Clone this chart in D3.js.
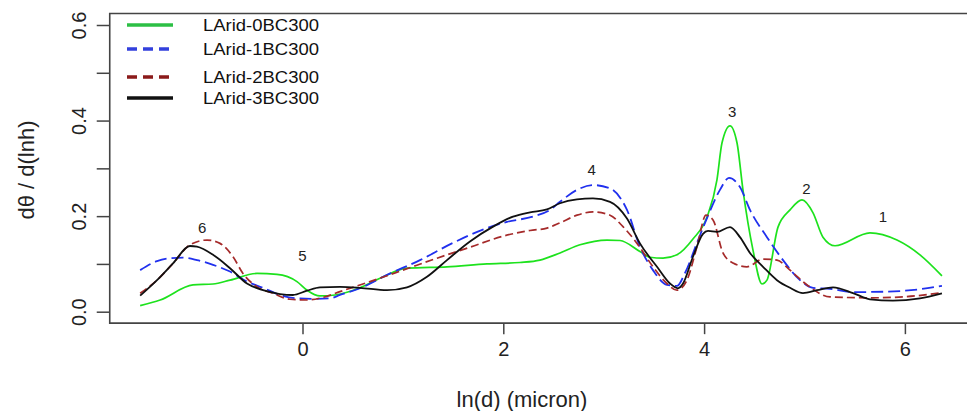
<!DOCTYPE html>
<html><head><meta charset="utf-8">
<script src="https://cdn.jsdelivr.net/npm/d3@7"></script>
<style>html,body{margin:0;padding:0;background:#fff;overflow:hidden}</style>
</head><body>
<svg id="chart" width="967" height="411"></svg>
<script>
// ---- data ----
const seriesNames = ["LArid-0BC300","LArid-1BC300","LArid-2BC300","LArid-3BC300"];
const xTicks = [0,2,4,6];
const yTicks = [0,0.1,0.2,0.3,0.4,0.5,0.6];
const yTickLabels = ["0.0","","0.2","","0.4","","0.6"];

const green0X = [-1.617,-1.418,-1.091,-0.891,-0.722,-0.453,-0.254,-0.055,0.045,0.174,0.324,0.573,0.772,1.041,1.439,1.838,2.166,2.365,2.565,2.764,3.033,3.162,3.361,3.461,3.591,3.730,3.889,4.029,4.128,4.178,4.258,4.328,4.387,4.487,4.577,4.626,4.736,4.856,4.975,5.085,5.184,5.304,5.652,5.921,6.150,6.369];
const green0Y = [0.0126,0.0245,0.056,0.058,0.066,0.080,0.078,0.063,0.045,0.033,0.035,0.050,0.070,0.091,0.094,0.100,0.103,0.108,0.123,0.140,0.150,0.149,0.126,0.114,0.112,0.119,0.152,0.198,0.276,0.353,0.389,0.353,0.255,0.129,0.058,0.066,0.177,0.213,0.234,0.207,0.156,0.138,0.165,0.150,0.119,0.075];

const blue1X = [-1.617,-1.449,-1.320,-1.190,-1.051,-0.891,-0.722,-0.553,-0.393,-0.224,-0.055,0.105,0.274,0.373,0.573,0.842,1.170,1.499,1.838,2.037,2.296,2.465,2.565,2.734,2.893,3.063,3.232,3.361,3.491,3.630,3.730,3.810,3.929,4.029,4.158,4.248,4.357,4.457,4.626,4.786,4.955,5.085,5.254,5.483,5.821,6.150,6.369];
const blue1Y = [0.087,0.106,0.112,0.113,0.108,0.098,0.084,0.063,0.050,0.035,0.028,0.027,0.028,0.035,0.049,0.077,0.108,0.144,0.175,0.188,0.199,0.213,0.230,0.255,0.265,0.258,0.213,0.136,0.087,0.056,0.054,0.081,0.144,0.196,0.255,0.280,0.261,0.213,0.156,0.108,0.066,0.050,0.048,0.041,0.042,0.047,0.054];

const red2X = [-1.617,-1.449,-1.290,-1.121,-0.951,-0.822,-0.692,-0.593,-0.453,-0.294,-0.125,0.045,0.204,0.373,0.672,1.001,1.340,1.668,1.997,2.266,2.435,2.565,2.734,2.893,3.063,3.192,3.332,3.491,3.630,3.730,3.829,3.929,4.019,4.089,4.188,4.288,4.427,4.587,4.726,4.856,5.025,5.254,5.652,5.981,6.369];
const red2Y = [0.0385,0.066,0.101,0.140,0.150,0.143,0.115,0.080,0.052,0.0385,0.026,0.0245,0.030,0.042,0.063,0.087,0.112,0.135,0.158,0.170,0.175,0.186,0.202,0.209,0.202,0.178,0.143,0.094,0.059,0.045,0.066,0.136,0.202,0.192,0.123,0.102,0.094,0.110,0.108,0.087,0.056,0.031,0.029,0.031,0.040];

const black3X = [-1.617,-1.449,-1.290,-1.121,-1.051,-0.891,-0.722,-0.553,-0.393,-0.224,-0.095,0.045,0.174,0.373,0.573,0.842,1.041,1.240,1.439,1.668,1.898,2.097,2.266,2.435,2.565,2.734,2.893,3.063,3.232,3.361,3.531,3.660,3.740,3.790,3.889,3.989,4.039,4.128,4.258,4.357,4.457,4.587,4.726,4.856,4.985,5.125,5.284,5.483,5.652,5.881,6.150,6.369];
const black3Y = [0.0335,0.066,0.101,0.1375,0.136,0.119,0.091,0.059,0.045,0.037,0.035,0.044,0.051,0.052,0.050,0.045,0.051,0.073,0.108,0.147,0.178,0.199,0.208,0.214,0.227,0.235,0.237,0.230,0.195,0.143,0.094,0.059,0.049,0.059,0.115,0.163,0.169,0.167,0.177,0.156,0.123,0.094,0.066,0.050,0.039,0.045,0.051,0.039,0.026,0.023,0.028,0.0385];

const peakLabels = ["6","5","4","3","2","1"];
const peakX = [-1.0,0.0,2.88,4.28,5.02,5.78];
const peakY = [0.175,0.117,0.298,0.418,0.257,0.199];

// ---- drawing ----
const svg = d3.select("#chart");
const x = d3.scaleLinear().domain([0,6]).range([302.5,904.9]);
const y = d3.scaleLinear().domain([0,0.6]).range([311.7,25]);

const xL = x(-1.92), xR = x(6.72), yT = y(0.624), yB = y(-0.024);

const series = [
  {xs:green0X, ys:green0Y, color:"#1de21d", dash:null, w:1.7},
  {xs:blue1X, ys:blue1Y, color:"#2030ee", dash:"12,5", w:1.8},
  {xs:red2X, ys:red2Y, color:"#a52a2a", dash:"8,4", w:1.7},
  {xs:black3X, ys:black3Y, color:"#111111", dash:null, w:1.8}
];

const line = d3.line().x(d=>x(d[0])).y(d=>y(d[1])).curve(d3.curveMonotoneX);
const g = svg.append("g");
series.forEach(s=>{
  const pts = s.xs.map((v,i)=>[v,s.ys[i]]);
  g.append("path").attr("d",line(pts)).attr("fill","none")
    .attr("stroke",s.color).attr("stroke-width",s.w)
    .attr("stroke-dasharray",s.dash).attr("stroke-linejoin","round");
});

// frame
svg.append("path").attr("d",`M${xR},${yT}H${xL}V${yB}H${xR}`)
  .attr("fill","none").attr("stroke","#444").attr("stroke-width",1.6);

// y axis ticks
const yAxis = d3.axisLeft(y).tickValues(yTicks).tickSize(13)
  .tickFormat((d,i)=>yTickLabels[i]);
const ya = svg.append("g").attr("transform",`translate(${xL},0)`).call(yAxis);
ya.select(".domain").remove();
ya.selectAll(".tick line").attr("stroke","#444").attr("stroke-width",1.5);
ya.selectAll(".tick text").attr("font-family","Liberation Sans, Arial, sans-serif")
  .attr("font-size",20).attr("fill","#222")
  .attr("x",0).attr("dy","0.35em").attr("text-anchor","middle")
  .attr("transform","translate(-31,0) rotate(-90)");

// x axis
const xAxis = d3.axisBottom(x).tickValues(xTicks).tickSize(11).tickFormat(d3.format("d"));
const xa = svg.append("g").attr("transform",`translate(0,${yB})`).call(xAxis);
xa.select(".domain").remove();
xa.selectAll(".tick line").attr("stroke","#444").attr("stroke-width",1.5);
xa.selectAll(".tick text").attr("font-family","Liberation Sans, Arial, sans-serif")
  .attr("font-size",20).attr("fill","#222").attr("y",26).attr("dy","0.35em");

// axis titles
svg.append("text").attr("x",522).attr("y",399).attr("dy","0.35em")
  .attr("text-anchor","middle").attr("font-family","Liberation Sans, Arial, sans-serif")
  .attr("font-size",22).attr("fill","#222").text("ln(d) (micron)");
svg.append("text").attr("transform","translate(26,170) rotate(-90)").attr("dy","0.35em")
  .attr("text-anchor","middle").attr("font-family","Liberation Sans, Arial, sans-serif")
  .attr("font-size",22).attr("fill","#222").text("dθ / d(lnh)");

// peak labels
peakLabels.forEach((t,i)=>{
  svg.append("text").attr("x",x(peakX[i])).attr("y",y(peakY[i])).attr("dy","0.35em")
    .attr("text-anchor","middle").attr("font-family","Liberation Sans, Arial, sans-serif")
    .attr("font-size",15).attr("fill","#222").text(t);
});

// legend
const legendColors = ["#2cbf45","#3340dd","#8b1a1a","#111111"];
const legendDash = [null,"10,6","10,6",null];
const legendRows = [25,49,77,98];
seriesNames.forEach((n,i)=>{
  svg.append("line").attr("x1",127).attr("x2",173).attr("y1",legendRows[i]).attr("y2",legendRows[i])
    .attr("stroke",legendColors[i]).attr("stroke-width",3.5).attr("stroke-dasharray",legendDash[i]);
  svg.append("text").attr("x",203).attr("y",legendRows[i]).attr("dy","0.35em")
    .attr("font-family","Liberation Sans, Arial, sans-serif").attr("font-size",17)
    .attr("textLength",116).attr("lengthAdjust","spacingAndGlyphs")
    .attr("fill","#111").text(n);
});
</script>
</body></html>
